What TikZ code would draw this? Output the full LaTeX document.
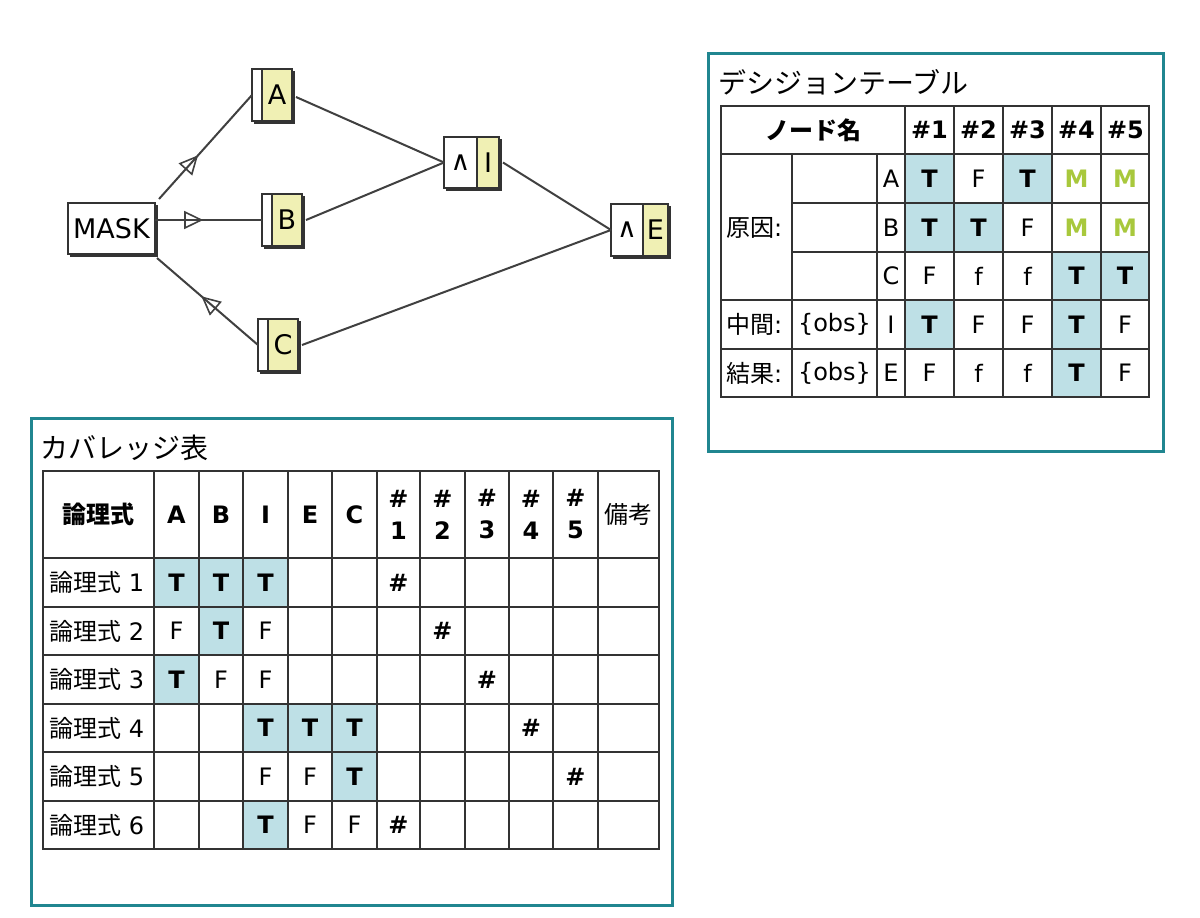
\documentclass[tikz,border=0pt]{standalone}
\usepackage{fontspec}
\setmainfont{DejaVu Sans}
\newfontfamily\jp{Noto Sans CJK JP}
\usetikzlibrary{arrows.meta,decorations.markings,calc}
\definecolor{teal1}{RGB}{32,134,144}
\definecolor{cellblue}{RGB}{190,224,230}
\definecolor{ylw}{RGB}{240,240,180}
\definecolor{grn}{RGB}{168,200,60}
\definecolor{gridc}{RGB}{51,51,51}
\definecolor{edgec}{RGB}{64,64,64}
\newcommand\mkgnode[6]{%
  \fill[gridc] (#2+2,#3+2) rectangle (#4+2.5,#5+2.5);
  \fill[white] (#2,#3) rectangle (#6,#5);
  \fill[ylw] (#6,#3) rectangle (#4,#5);
  \draw[gridc, line width=1.5] (#2,#3) rectangle (#4,#5);
  \draw[gridc, line width=1.5] (#6,#3) -- (#6,#5);
  \node[anch, minimum width={#4-#2}, minimum height={#5-#3}] (#1) at ({(#2+#4)/2},{(#3+#5)/2}) {};
}
\begin{document}
\begin{tikzpicture}[x=1pt,y=-1pt,
  lbl/.style={inner sep=0pt, font=\fontsize{24}{28}\selectfont},
  tn/.style={lbl},
  tb/.style={inner sep=0pt, font=\fontsize{24}{28}\selectfont\bfseries},
  tm/.style={tb, text=grn},
  gtxt/.style={inner sep=0pt, font=\fontsize{27}{30}\selectfont},
  edge/.style={draw=edgec, line width=2},
  grid/.style={draw=gridc, line width=2},
  frame/.style={draw=teal1, line width=3},
  anch/.style={inner sep=0pt, outer sep=0pt, draw=none},
  midtri/.style={postaction={decorate}, decoration={markings, mark=at position #1 with {\arrow[edgec]{Triangle[open, length=19pt, width=18pt, line width=1.6pt]}}}}
]
\fill[white] (0,0) rectangle (1200,918);
\useasboundingbox (0,0) rectangle (1200,918);

% ---------------- graph ----------------
% MASK
\fill[gridc] (70,205) rectangle (157.5,256.5);
\node[anch, fill=white, draw=gridc, line width=1.5, minimum width=87, minimum height=51] (MASK) at (111.5,228.5) {};
\node[gtxt] (MASKt) at (MASK.center) {MASK};

\mkgnode{A}{252}{69}{292}{121}{262}
\mkgnode{B}{262}{194}{302}{246}{272}
\mkgnode{C}{258}{319}{298}{371}{268}
\mkgnode{I}{444}{137}{499}{188}{477}
\mkgnode{E}{611}{204}{668}{256}{643}
\node[gtxt] (At) at (277,95) {A};
\node[gtxt] (Bt) at (287,220) {B};
\node[gtxt] (Ct) at (283,345) {C};
\node[gtxt] (Iop) at (460.5,162.5) {∧};
\node[gtxt] (It) at (488,162.5) {I};
\node[gtxt] (Eop) at (627,230) {∧};
\node[gtxt] (Et) at (655.5,230) {E};

\draw[edge, midtri=0.42] ($(MASK.north east)+(4,-4)$) -- (A.west);
\draw[edge, midtri=0.45] (MASK.east |- B.west) -- (B.west);
\draw[edge, midtri=0.56] (C.west) -- ($(MASK.south east)+(2,4)$);
\draw[edge] ($(A.east)+(4,2)$) -- (I.west);
\draw[edge] ($(B.east)+(4,0)$) -- (I.west);
\draw[edge] ($(I.east)+(4,0)$) -- (E.west);
\draw[edge] ($(C.east)+(4,0)$) -- (E.west);

% ---------------- decision table ----------------
\draw[frame] (708,53) rectangle (1163,451);
\node[anch, anchor=west, font=\fontsize{28}{31}\selectfont\jp] (dttitle) at (718,82) {デシジョンテーブル};

\foreach \xa/\ya in {905/154, 1003/154, 905/203, 954/203, 1052/252, 1101/252, 905/300, 1052/300, 1052/349}
  \fill[cellblue] (\xa,\ya) rectangle ++(49,49);

\draw[grid] (721,106) rectangle (1149,397);
\draw[grid] (721,154) -- (1149,154);
\draw[grid] (792,203) -- (1149,203);
\draw[grid] (792,252) -- (1149,252);
\draw[grid] (721,300) -- (1149,300);
\draw[grid] (721,349) -- (1149,349);
\draw[grid] (792,154) -- (792,397);
\draw[grid] (877,154) -- (877,397);
\foreach \xv in {905,954,1003,1052,1101}
  \draw[grid] (\xv,106) -- (\xv,397);

\node[tb] (dhname) at (813,130) {\jp\bfseries ノード名};
\foreach \t [count=\k] in {1,...,5}
  \node[tb] (dh\k) at ({905+49*(\k-1)+24.5},130) {\#\t};
\node[lbl, anchor=west] (dgen) at (726,227.5) {{\jp 原因}:};
\node[lbl, anchor=west] (dmid) at (726,324.5) {{\jp 中間}:};
\node[lbl, anchor=west] (dres) at (726,373) {{\jp 結果}:};
\node[lbl] (dobs1) at (834.5,324.5) {\{obs\}};
\node[lbl] (dobs2) at (834.5,373) {\{obs\}};
\foreach \t/\r [count=\k] in {A/178.5, B/227.5, C/276, I/324.5, E/373}
  \node[lbl] (dn\k) at (891,\r) {\t};

\foreach \c/\r/\t/\s [count=\k] in {
  929.5/178.5/T/tb, 978.5/178.5/F/tn, 1027.5/178.5/T/tb, 1076.5/178.5/M/tm, 1125/178.5/M/tm,
  929.5/227.5/T/tb, 978.5/227.5/T/tb, 1027.5/227.5/F/tn, 1076.5/227.5/M/tm, 1125/227.5/M/tm,
  929.5/276/F/tn, 978.5/276/f/tn, 1027.5/276/f/tn, 1076.5/276/T/tb, 1125/276/T/tb,
  929.5/324.5/T/tb, 978.5/324.5/F/tn, 1027.5/324.5/F/tn, 1076.5/324.5/T/tb, 1125/324.5/F/tn,
  929.5/373/F/tn, 978.5/373/f/tn, 1027.5/373/f/tn, 1076.5/373/T/tb, 1125/373/F/tn}
  \node[\s] (dv\k) at (\c,\r) {\t};

% ---------------- coverage table ----------------
\draw[frame] (31,418) rectangle (672,905);
\node[anch, anchor=west, font=\fontsize{28}{31}\selectfont\jp] (cvtitle) at (40,448) {カバレッジ表};

\foreach \xa/\xb/\ya/\yb in {154/288/558/607, 199/243/607/655, 154/199/655/704, 243/377/704/752, 332/377/752/801, 243/288/801/849}
  \fill[cellblue] (\xa,\ya) rectangle (\xb,\yb);

\draw[grid] (43,471) rectangle (659,849);
\foreach \yv in {558,607,655,704,752,801}
  \draw[grid] (43,\yv) -- (659,\yv);
\foreach \xv in {154,199,243,288,332,377,420,465,509,553,598}
  \draw[grid] (\xv,471) -- (\xv,849);

\node[tb] (chname) at (98.5,514.5) {\jp\bfseries 論理式};
\foreach \t/\c [count=\k] in {A/176.5, B/221, I/265.5, E/310, C/354.5}
  \node[tb] (ch\k) at (\c,514.5) {\t};
\foreach \c [count=\k] in {398.5,442.5,487,531,575.5}
  \node[tb, align=center] (chn\k) at (\c,514.5) {\#\\[4pt]\k};
\node[lbl] (chnote) at (628.5,514.5) {\jp 備考};

\foreach \r [count=\k] in {582.5,631,679.5,728,776.5,825}
  \node[lbl, anchor=west] (cr\k) at (49,\r) {{\jp 論理式} \k};

\foreach \c/\r/\t/\s [count=\k] in {
  176.5/582.5/T/tb, 221/582.5/T/tb, 265.5/582.5/T/tb, 398.5/582.5/\#/tb,
  176.5/631/F/tn, 221/631/T/tb, 265.5/631/F/tn, 442.5/631/\#/tb,
  176.5/679.5/T/tb, 221/679.5/F/tn, 265.5/679.5/F/tn, 487/679.5/\#/tb,
  265.5/728/T/tb, 310/728/T/tb, 354.5/728/T/tb, 531/728/\#/tb,
  265.5/776.5/F/tn, 310/776.5/F/tn, 354.5/776.5/T/tb, 575.5/776.5/\#/tb,
  265.5/825/T/tb, 310/825/F/tn, 354.5/825/F/tn, 398.5/825/\#/tb}
  \node[\s] (cv\k) at (\c,\r) {\t};
\end{tikzpicture}
\end{document}
